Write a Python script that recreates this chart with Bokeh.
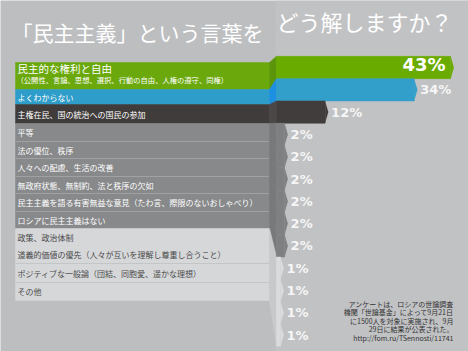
from bokeh.plotting import figure
from bokeh.models import Range1d
from bokeh.core.properties import value
from bokeh.embed import file_html
from bokeh.resources import INLINE

# ---------------- data ----------------
TITLE_LEFT = "「民主主義」という言葉を"
TITLE_RIGHT = "どう解しますか？"
categories = [
    "民主的な権利と自由",
    "よくわからない",
    "主権在民、国の統治への国民の参加",
    "平等",
    "法の優位、秩序",
    "人々への配慮、生活の改善",
    "無政府状態、無制約、法と秩序の欠如",
    "民主主義を語る有害無益な意見（たわ言、際限のないおしゃべり）",
    "ロシアに民主主義はない",
    "政策、政治体制",
    "道義的価値の優先（人々が互いを理解し尊重し合うこと）",
    "ポジティブな一般論（団結、同胞愛、遥かな理想）",
    "その他",
]
first_subtitle = "（公開性、言論、思想、選択、行動の自由、人権の遵守、同権）"
values = [43, 34, 12, 2, 2, 2, 2, 2, 2, 1, 1, 1, 1]
note_lines = [
    "アンケートは、ロシアの世論調査",
    "機関「世論基金」によって9月21日",
    "に1500人を対象に実施され、9月",
    "29日に結果が公表された。",
    "http://fom.ru/TSennosti/11741",
]

# ---------------- layout ----------------
W, H = 468, 351
K = 4.05      # px per percent
X0 = 276      # px of the 0 % line
ROW0 = 67     # px centre of first bar row
ROWH = 22.3   # px per bar row


def px_x(px):
    return (px - X0) / K


def px_y(py):
    return (py - ROW0) / ROWH


# left label-panel row edges (px, perspective panel)
left_edges = [62, 89, 104, 123, 141, 158, 176, 193, 211, 228, 245, 263, 282, 300]
PANEL_L, PANEL_R = 15, 269

left_colors = ["#6aa80c", "#2f9dca", "#3f3c3b"] + ["#88898b"] * 6 + ["#d6d7d9"] * 4
fold_colors = ["#5c950a", "#1d8fe0", "#4a4746"] + ["#78797b"] * 6 + ["#c8c9cb"] * 4
bar_colors = ["#6aab00", "#329fcb", "#403d3c"] + ["#7f8082"] * 6 + ["#dadbdd"] * 4
text_colors = ["#ffffff"] * 9 + ["#4a4a4a"] * 4

BG = "#bdbec0"
JP = value("Noto Sans CJK JP")
NUM = value("DejaVu Sans")

p = figure(
    width=W, height=H,
    x_range=Range1d(px_x(0), px_x(W)),
    y_range=Range1d(px_y(H), px_y(0)),
    output_backend="svg", toolbar_location=None,
    x_axis_location=None, y_axis_location=None,
    min_border=0,
)
p.grid.visible = False
p.outline_line_color = None
p.background_fill_color = BG
p.border_fill_color = BG

# slightly lighter right half of the background
p.quad(left=[px_x(X0 - 1)], right=[px_x(W)], top=[px_y(0)], bottom=[px_y(H)],
       color="#c1c2c4", line_color=None)

n = len(categories)
idx = list(range(n))

# left label panel rows
p.quad(left=[px_x(PANEL_L)] * n, right=[px_x(PANEL_R)] * n,
       top=[px_y(left_edges[i]) for i in idx],
       bottom=[px_y(left_edges[i + 1]) for i in idx],
       fill_color=left_colors, line_color=left_colors, line_width=0.5)

# separators between plain rows
sep_rows = list(range(4, 9)) + [11, 12]
p.segment(x0=[px_x(PANEL_L)] * len(sep_rows), x1=[px_x(PANEL_R)] * len(sep_rows),
          y0=[px_y(left_edges[i]) for i in sep_rows],
          y1=[px_y(left_edges[i]) for i in sep_rows],
          line_color=["#a0a1a3"] * 5 + ["#c4c5c7"] * 2, line_width=1)

# fold between the label panel and the bars
xs, ys = [], []
for i in idx:
    xs.append([px_x(PANEL_R), 0, 0, px_x(PANEL_R)])
    ys.append([px_y(left_edges[i]), i - 0.5, i + 0.5, px_y(left_edges[i + 1])])
p.patches(xs=xs, ys=ys, fill_color=fold_colors, line_color=fold_colors, line_width=0.6)

# bars
p.hbar(y=idx, left=0, right=values, height=1, fill_color=bar_colors,
       line_color=bar_colors, line_width=0.5)

# small pointed tips at the bar ends
tx, ty = [], []
for i, v in enumerate(values):
    tx.append([v, v + 0.8, v])
    ty.append([i - 0.5, i, i + 0.5])
p.patches(xs=tx, ys=ty, color=bar_colors, line_color=None)

# row labels
label_y = []
for i in idx:
    label_y.append(px_y((left_edges[i] + left_edges[i + 1]) / 2))
label_y[0] = px_y(68)
p.text(x=[px_x(17)], y=[label_y[0]], text=[categories[0]], text_font=JP,
       text_font_size="10.5px", text_color="#ffffff", text_baseline="middle")
p.text(x=[px_x(16)], y=[px_y(79)], text=[first_subtitle], text_font=JP,
       text_font_size="7.3px", text_color="#ffffff", text_baseline="middle")
p.text(x=[px_x(17)] * (n - 1), y=label_y[1:], text=categories[1:], text_font=JP,
       text_font_size="8px", text_color=text_colors[1:], text_baseline="middle")

# value labels
p.text(x=[values[0]], y=[0], text=[f"{values[0]}%"], text_font=NUM,
       text_font_style="bold", text_font_size="18px", text_color="#ffffff",
       text_align="right", text_baseline="middle", x_offset=-5, y_offset=-3)
p.text(x=values[1:], y=idx[1:], text=[f"{v}%" for v in values[1:]], text_font=NUM,
       text_font_style="bold", text_font_size="13px", text_color="#f6f6f6",
       text_align="left", text_baseline="middle", x_offset=6)

# title
p.text(x=[px_x(11)], y=[px_y(31)], text=[TITLE_LEFT], text_font=JP,
       text_font_size="21px", text_color="#ffffff", text_baseline="middle")
p.text(x=[px_x(276)], y=[px_y(20)], text=[TITLE_RIGHT], text_font=JP,
       text_font_size="22px", text_color="#ffffff", text_baseline="middle")

# note
note_y = [303, 311.5, 320, 328.5, 337]
p.text(x=[px_x(453)] * len(note_lines), y=[px_y(v) for v in note_y], text=note_lines,
       text_font=JP, text_font_size="7px", text_color="#333333",
       text_align="right", text_baseline="middle")

open("out.html", "w").write(file_html(p, INLINE))
